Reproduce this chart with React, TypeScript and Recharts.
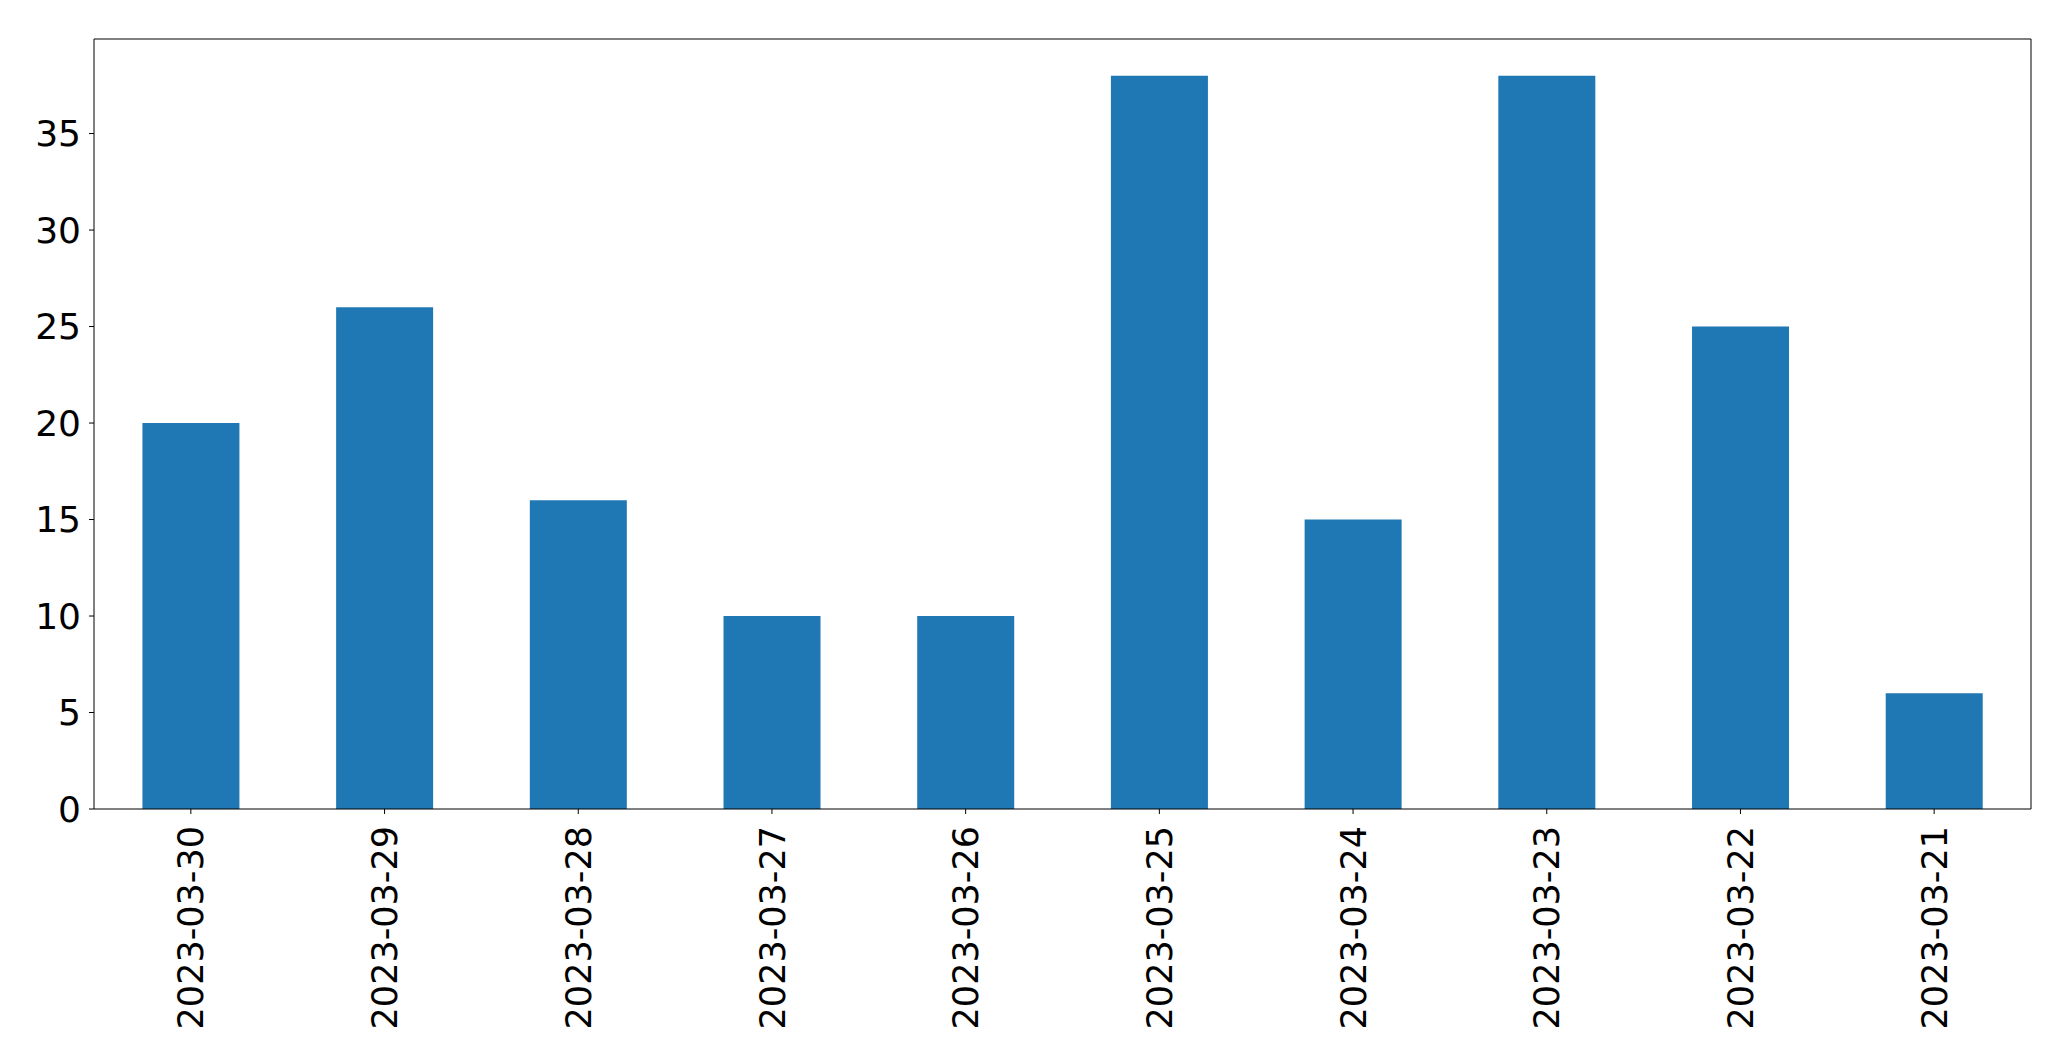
import { Bar, BarChart, ReferenceLine, XAxis, YAxis } from 'recharts'

const dates = [
  '2023-03-30',
  '2023-03-29',
  '2023-03-28',
  '2023-03-27',
  '2023-03-26',
  '2023-03-25',
  '2023-03-24',
  '2023-03-23',
  '2023-03-22',
  '2023-03-21',
]
const counts = [20, 26, 16, 10, 10, 38, 15, 38, 25, 6]
const yTicks = [0, 5, 10, 15, 20, 25, 30, 35]
const yMax = 39.9

const data = dates.map((d, i) => ({ date: d, count: counts[i] }))

const font = '"DejaVu Sans", sans-serif'

// label tegak, ujungnya di dekat tick seperti matplotlib rotation=90
function DateTick(props: any) {
  const { x, y, payload } = props
  return (
    <g transform={`translate(${x},${y})`}>
      <text
        transform="rotate(-90)"
        x={-12}
        y={0}
        dy="0.36em"
        textAnchor="end"
        fill="#000"
        fontSize={35}
        fontFamily={font}
      >
        {payload.value}
      </text>
    </g>
  )
}

export default function App() {
  return (
    <div style={{ position: 'absolute', left: 0, top: 0, background: '#fff' }}>
      <BarChart
        width={2071}
        height={1061}
        data={data}
        margin={{ top: 39, right: 40, left: 0, bottom: 0 }}
        barCategoryGap="25%"
      >
        <XAxis
          dataKey="date"
          height={252}
          stroke="#000"
          tickSize={5}
          tickMargin={0}
          tick={<DateTick />}
          interval={0}
        />
        <YAxis
          width={94}
          domain={[0, yMax]}
          ticks={yTicks}
          stroke="#000"
          tickSize={5}
          tickMargin={8}
          allowDataOverflow
          tick={{ fontSize: 36, fill: '#000', fontFamily: font }}
        />
        {/* bingkai atas & kanan */}
        <ReferenceLine y={yMax} stroke="#000" />
        <ReferenceLine x={dates[dates.length - 1]} position="end" stroke="#000" />
        <Bar dataKey="count" fill="#1f77b4" isAnimationActive={false} />
      </BarChart>
    </div>
  )
}
